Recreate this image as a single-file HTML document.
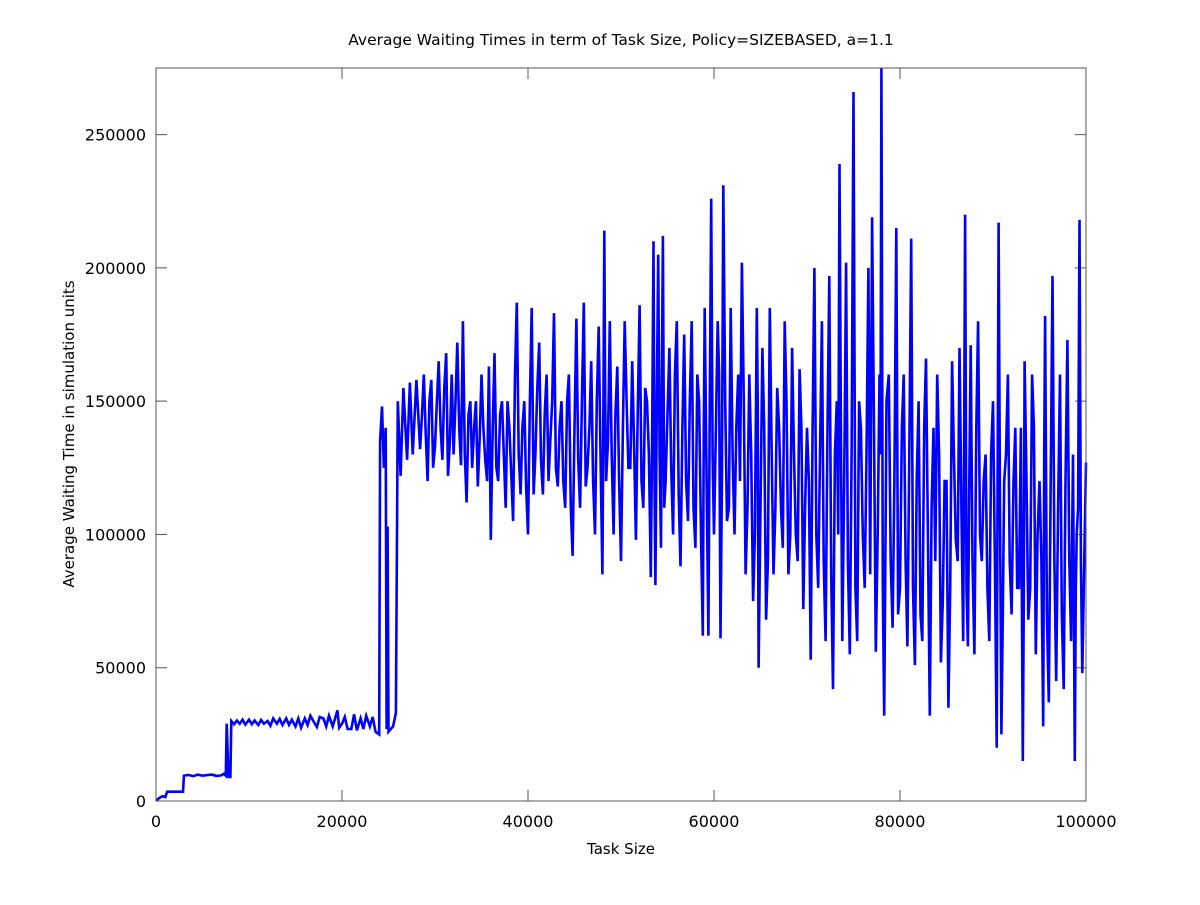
<!DOCTYPE html>
<html><head><meta charset="utf-8"><style>
body{margin:0;background:#fff}
svg text{font-family:"DejaVu Sans","Liberation Sans",sans-serif;fill:#000}
</style></head><body>
<svg width="1200" height="900" xmlns="http://www.w3.org/2000/svg">
<rect width="1200" height="900" fill="#fff"/>
<text x="621" y="45" font-size="15.5" text-anchor="middle">Average Waiting Times in term of Task Size, Policy=SIZEBASED, a=1.1</text>
<g id="axes"></g>
<path id="series" fill="none" stroke="#0000ff" stroke-width="2.6" stroke-linejoin="miter"/>
<rect x="156" y="68" width="930" height="733" fill="none" stroke="#555" stroke-width="1"/>
<text x="621" y="854" font-size="15" text-anchor="middle">Task Size</text>
<text transform="translate(74,434) rotate(-90)" font-size="15" text-anchor="middle">Average Waiting Time in simulation units</text>
</svg>
<script>
const xTicks=[0,20000,40000,60000,80000,100000];
const yTicks=[0,50000,100000,150000,200000,250000];
const early=[[0,0],[300,1000],[700,1800],[1000,1500],[1200,3500],[2900,3500],[3000,9500],[3500,9800],[4000,9300],[4500,9900],[5000,9500],[5500,9700],[6000,9900],[6500,9400],[7000,9600],[7300,10200],[7500,9500],[7600,29000],[7800,9000],[8000,9000],[8100,30000],[8400,28800],[8700,30200],[9000,29000],[9300,30500],[9600,28700],[10000,30500],[10300,28800],[10600,30200],[11000,28500],[11300,30400],[11600,29000],[12000,30000],[12300,28200],[12600,31000],[13000,29000],[13300,30800],[13600,28500],[14000,31000],[14300,28600],[14600,30500],[15000,28000],[15300,31000],[15600,27500],[16000,31000],[16300,28500],[16600,32000],[17000,29500],[17300,27800],[17600,31500],[18000,31000],[18300,28000],[18600,32000],[19000,28000],[19300,31500],[19500,34000],[19700,27500],[20000,29000],[20300,31500],[20600,27000],[21000,27000],[21300,32500],[21600,26500],[22000,31000],[22300,27000],[22600,32000],[23000,28000],[23300,31500],[23600,26000],[24000,25000],[24100,135000],[24300,148000],[24500,125000],[24700,140000],[24800,27000],[24900,103000],[25000,26000],[25500,28000],[25800,33000],[26000,150000],[26300,122000],[26600,155000],[27000,128000],[27300,157000],[27600,130000],[28000,158000]];
const taskSizesK=[28.4,28.8,29.2,29.6,30,30.4,30.8,31.2,31.6,32,32.4,32.8,33,33.4,33.8,34.2,34.6,35,35.4,35.8,36,36.4,36.8,37.2,37.6,38,38.4,38.8,39.2,39.6,40,40.4,40.8,41.2,41.6,42,42.4,42.8,43.2,43.6,44,44.4,44.8,45.2,45.6,46,46.4,46.8,47.2,47.6,48,48.2,48.4,48.8,49.2,49.6,50,50.4,50.8,51.2,51.6,52,52.4,52.8,53.2,53.5,53.7,54,54.3,54.5,54.8,55.2,55.6,56,56.4,56.8,57.2,57.6,58,58.4,58.8,59,59.4,59.7,60,60.4,60.7,61,61.4,61.8,62.2,62.6,63,63.4,63.8,64.2,64.6,64.8,65.2,65.6,66,66.4,66.8,67.2,67.6,68,68.4,68.8,69.2,69.6,70,70.4,70.8,71.2,71.6,72,72.4,72.8,73.2,73.5,73.8,74.2,74.6,75,75.4,75.8,76.2,76.6,77,77.4,77.8,78,78.3,78.8,79.2,79.6,80,80.4,80.8,81.2,81.6,82,82.4,82.8,83.2,83.6,84,84.4,84.8,85.2,85.6,86,86.4,86.8,87,87.3,87.6,88,88.4,88.8,89.2,89.6,90,90.4,90.6,90.9,91.2,91.6,92,92.4,92.8,93.2,93.4,93.8,94.2,94.6,95,95.4,95.6,96,96.4,96.8,97.2,97.6,98,98.4,98.8,99,99.3,99.6,100];
const waitTimesK=[132,160,120,158,133,165,128,168,135,130,172,126,180,112,150,140,118,160,128,163,98,168,120,150,110,140,105,187,115,150,100,185,130,172,115,160,135,183,118,150,110,160,92,181,110,187,125,165,100,178,85,214,120,180,100,163,90,180,125,165,98,186,110,150,84,210,81,205,95,212,120,170,100,180,88,175,105,180,95,150,62,185,62,226,100,180,61,231,105,185,100,160,202,85,160,75,185,50,170,68,185,85,155,110,180,85,170,100,162,72,140,53,200,80,180,60,197,42,150,239,60,202,55,266,60,140,80,200,219,56,160,275,32,160,65,215,80,160,58,211,51,150,60,166,32,140,160,52,120,35,165,98,170,60,220,58,171,55,180,90,130,60,150,20,217,25,120,160,70,140,80,15,165,68,160,55,120,28,182,37,197,45,160,42,173,60,15,100,218,48,127];
const midWaitTimesK=[145,138,150,125,150,140,155,122,160,150,140,155,130,145,125,150,135,140,120,130,140,125,145,130,150,122,160,130,140,118,150,115,155,128,145,120,150,125,140,120,150,110,140,128,150,118,140,120,150,130,140,150,135,130,145,120,140,150,125,135,145,120,155,130,140,120,150,130,160,110,145,125,160,115,140,120,150,110,160,100,140,120,150,130,140,160,120,150,110,130,140,120,150,110,130,100,150,110,140,90,130,110,140,95,150,100,130,90,140,110,120,140,100,130,90,140,85,130,100,140,120,90,130,80,150,100,130,85,140,100,130,80,150,90,120,70,140,90,130,80,120,70,140,100,110,90,130,75,120,80,130,90,110,140,80,120,90,140,100,120,80,130,90,120,110,70,130,90,120,80,140,70,120,80,140,100,90,130,70,120,90,110,70,120,90,130,80,110,90];
const X=v=>156+v/100000*930, Y=v=>801-v/275000*733;
const ns="http://www.w3.org/2000/svg", ax=document.getElementById('axes');
function mk(t,a){const e=document.createElementNS(ns,t);for(const k in a)e.setAttribute(k,a[k]);ax.appendChild(e);return e;}
xTicks.forEach(v=>{
 const l=mk('path',{d:`M${X(v)},801v-11M${X(v)},68v11`,stroke:'#555'});
 
 
 const t=mk('text',{x:X(v),y:827,'font-size':16,'text-anchor':'middle'});t.textContent=v;
 
 
});
yTicks.forEach(v=>{
 const l=mk('path',{d:`M156,${Y(v)}h11M1086,${Y(v)}h-11`,stroke:'#555'});
 
 
 const t=mk('text',{x:146,y:Y(v)+6,'font-size':16,'text-anchor':'end'});t.textContent=v;
 
 
});
let pts=early.map(p=>[p[0],p[1]]);
taskSizesK.forEach((x,i)=>{
 pts.push([x*1000,waitTimesK[i]*1000]);
 if(i<midWaitTimesK.length&&i+1<taskSizesK.length) pts.push([(x+taskSizesK[i+1])*500,midWaitTimesK[i]*1000]);
});
document.getElementById('series').setAttribute('d',pts.map((p,i)=>(i?'L':'M')+X(p[0]).toFixed(1)+','+Y(p[1]).toFixed(1)).join(''));
</script>
</body></html>
